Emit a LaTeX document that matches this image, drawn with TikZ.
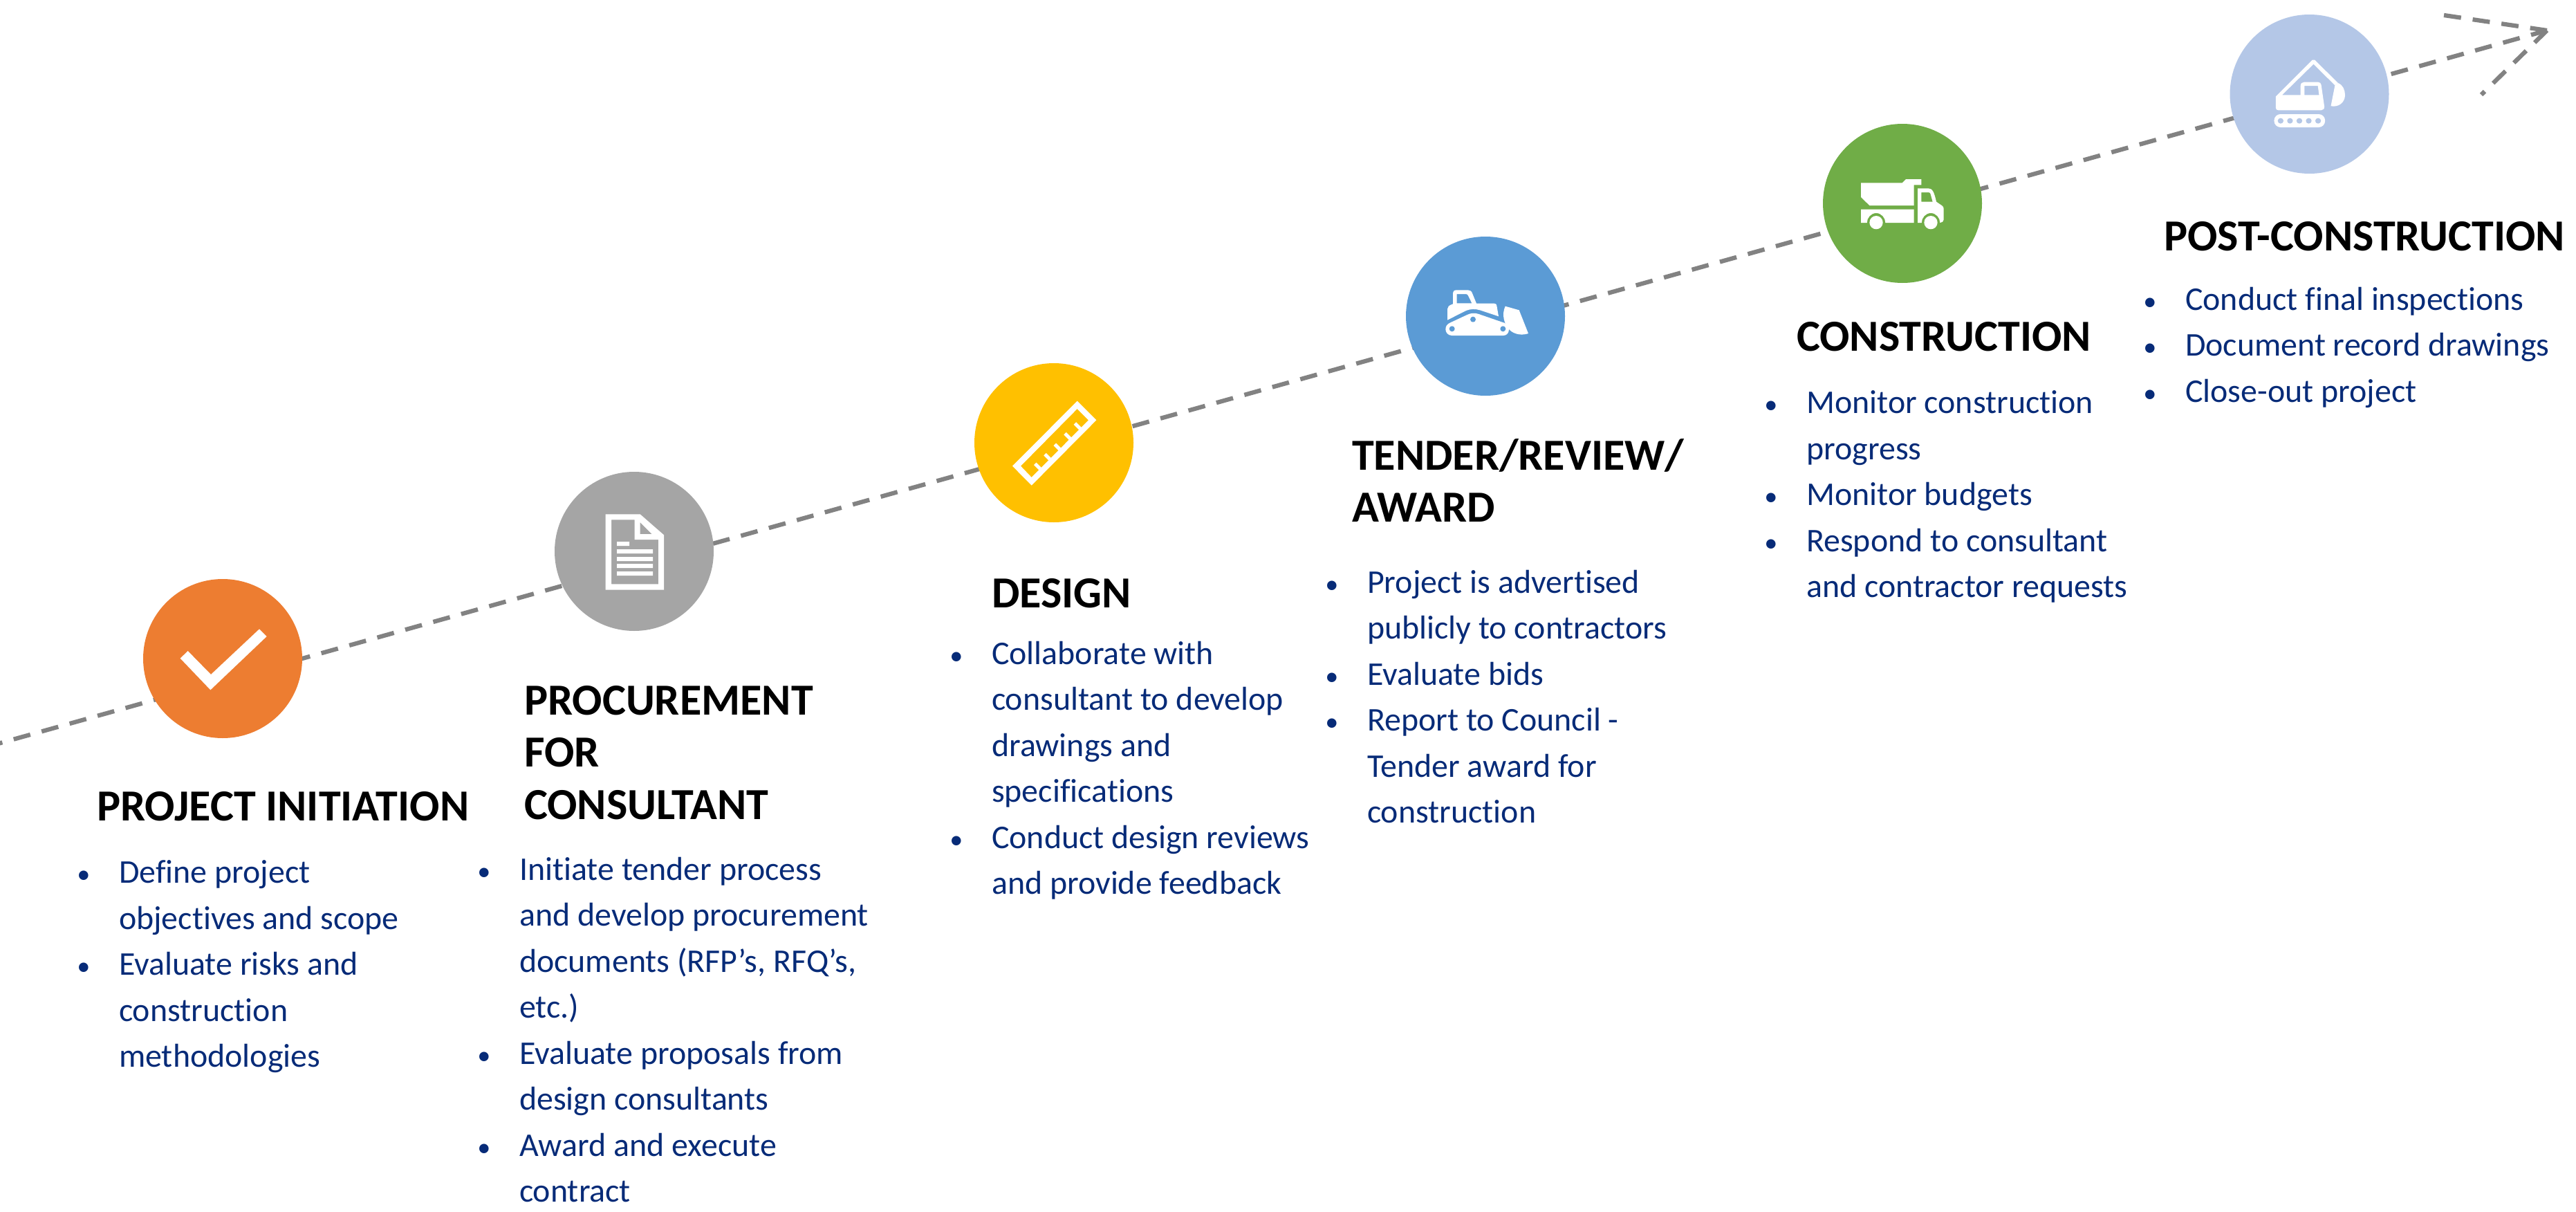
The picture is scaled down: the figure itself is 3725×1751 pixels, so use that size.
\documentclass[tikz,border=0pt]{standalone}
\usepackage{fontspec}
\setmainfont{Carlito}[Ligatures=NoCommon]
\definecolor{navy}{HTML}{072B78}
\definecolor{dashgrey}{HTML}{828282}
\definecolor{corange}{HTML}{ED7D31}
\definecolor{cgrey}{HTML}{A5A5A5}
\definecolor{cyellow}{HTML}{FFC000}
\definecolor{cblue}{HTML}{5B9BD5}
\definecolor{cgreen}{HTML}{70AD47}
\definecolor{clight}{HTML}{B4C7E7}
\newcommand{\bl}{\makebox[16.1pt][l]{\hspace*{1.5pt}\scalebox{0.8}{\textbullet}}}
\newcommand{\ct}{\hspace*{16.1pt}}
\tikzset{
  stage/.style={circle,minimum size=55.2pt,inner sep=0pt,outer sep=0pt,draw=none},
  heading/.style={anchor=north west,inner sep=0pt,outer sep=0pt,align=left,text=black,font=\fontsize{15.4}{18.2}\selectfont\bfseries},
  bullets/.style={anchor=north west,inner sep=0pt,outer sep=0pt,align=left,text=navy,font=\fontsize{11.5}{15.96}\selectfont},
  flow/.style={draw=dashgrey,line width=1.5pt,dash pattern=on 6pt off 4.08pt},
  icon/.style={fill=white,draw=none},
  zoomed/.style={x=0.08pt,y=-0.08pt},
  zoomedwide/.style={x=0.08342pt,y=-0.08pt}
}
\begin{document}
\begin{tikzpicture}[x=0.24pt,y=-0.24pt]
\clip (0,0) rectangle (3725,1751);
\useasboundingbox (0,0) rectangle (3725,1751);
\fill[white] (0,0) rectangle (3725,1751);
\coordinate (start) at (-20.7,1080);
\coordinate (tip) at (3683,44);
\coordinate (arma) at (3534,22);
\coordinate (armb) at (3588,137);
\draw[flow] (start) -- (tip);
\draw[flow] (arma) -- (tip) (tip) -- (armb);
\node[stage,fill=corange] (c1) at (322,952) {};
\node[stage,fill=cgrey] (c2) at (917,797) {};
\node[stage,fill=cyellow] (c3) at (1524,640) {};
\node[stage,fill=cblue] (c4) at (2148,457) {};
\node[stage,fill=cgreen] (c5) at (2751,294) {};
\node[stage,fill=clight] (c6) at (3339.5,136) {};
% check
\begin{scope}[shift={(190,830)},zoomed]
\fill[icon] (212,365)--(245,333)--(345,435)--(555,238)--(587,270)--(343,502)--cycle;
\end{scope}
% document
\begin{scope}[shift={(790,670)},zoomed]
\fill[icon,even odd rule] (257,220)--(407,220)--(510,310)--(510,548)--(257,548)--cycle
 (282,244)--(383,244)--(383,330)--(486,330)--(486,523)--(282,523)--cycle
 (407,255)--(458,306)--(407,306)--cycle;
\fill[icon] (306,339) rectangle (360,357) (306,372) rectangle (462,390) (306,405) rectangle (462,423) (306,435) rectangle (462,453) (306,468) rectangle (462,486);
\end{scope}
% ruler
\begin{scope}[shift={(1400,510)},zoomed]
\fill[icon,even odd rule] (473,209)--(556,292)--(275,575)--(192,491)--cycle
 (473,243)--(522,292)--(275,540)--(228,491)--cycle;
\draw[white,line width=1.2pt] (290,481)--(312,503) (333,440)--(354,461) (376,397)--(397,418) (420,350)--(443,373) (463,306)--(486,329);
\end{scope}
% bulldozer
\begin{scope}[shift={(2020,330)},zoomed]
\fill[icon,even odd rule] (219,398)--(219,350) .. controls (219,340) and (225,335) .. (243,328)--(243,285) .. controls (243,273) and (248,268) .. (258,268)--(308,268) .. controls (318,268) and (323,272) .. (327,282)--(345,326)--(422,326) .. controls (430,326) and (432,330) .. (433,336)--(441,382)--(360,355) .. controls (340,349) and (320,349) .. (300,357)--cycle
 (260,285)--(298,285) .. controls (305,285) and (307,288) .. (309,292)--(325,325)--(260,325)--cycle;
\fill[icon] (230,410)--(305,375) .. controls (322,367) and (338,366) .. (355,372)--(468,411) .. controls (480,418) and (487,428) .. (486,438) .. controls (486,455) and (475,465) .. (462,465)--(238,465) .. controls (222,465) and (211,452) .. (211,438) .. controls (211,425) and (218,415) .. (230,410)--cycle;
\fill[cblue] (239,436) circle[radius=12] (330,395) circle[radius=12] (460,436) circle[radius=12];
\fill[icon] (470,338)--(530,355)--(570,456) .. controls (545,465) and (510,462) .. (488,440) .. controls (465,415) and (453,375) .. (470,338)--cycle;
\end{scope}
% truck
\begin{scope}[shift={(2620,170)},zoomed]
\fill[icon] (213,283)--(392,283)--(408,267)--(475,267)--(475,292)--(443,292)--(443,381)--(250,381)--(213,345)--cycle;
\fill[icon] (213,398)--(443,398)--(443,456)--(319,456) .. controls (319,434) and (301,414) .. (279,414) .. controls (257,414) and (239,434) .. (239,456)--(213,456)--cycle;
\fill[icon,even odd rule] (459,307)--(505,307) .. controls (522,307) and (530,320) .. (540,365)--(565,382) .. controls (570,386) and (572,390) .. (572,396)--(572,442) .. controls (572,450) and (565,456) .. (556,456) .. controls (556,434) and (538,414) .. (516,414) .. controls (494,414) and (476,434) .. (476,456)--(459,456)--cycle
 (475,324)--(506,324) .. controls (512,324) and (514,328) .. (515,332)--(524,365)--(475,365)--cycle;
\fill[icon] (279,455) circle[radius=29] (516,455) circle[radius=29];
\end{scope}
% excavator
\begin{scope}[shift={(3180,0)},zoomedwide]
\fill[icon,even odd rule] (319,418)--(471,260)--(481,260)--(578,360)--(565,370)--(476,278)--(345,412)--(422,412)--(422,372) .. controls (422,362) and (428,356) .. (437,356)--(495,356) .. controls (503,356) and (507,361) .. (508,368)--(521,462) .. controls (522,472) and (515,478) .. (508,478)--(330,478) .. controls (323,478) and (319,474) .. (319,468)--cycle
 (438,372)--(494,372)--(499,412)--(438,412)--cycle;
\fill[icon] (565,370)--(578,360) .. controls (598,368) and (607,390) .. (607,412) .. controls (607,445) and (580,466) .. (548,460)--cycle;
\fill[icon,rounded corners=2.2pt] (312,495) rectangle (524,552);
\fill[clight] (339,524) circle[radius=12] (378,524) circle[radius=12] (417,524) circle[radius=12] (456,524) circle[radius=12] (495,524) circle[radius=12];
\end{scope}
% headings
\node[heading] (h1) at (140,1144) {PROJECT INITIATION};
\node[heading] (h2) at (758,991) {PROCUREMENT\\FOR\\CONSULTANT};
\node[heading] (h3) at (1434,836) {DESIGN};
\node[heading] (h4) at (1955,634) {TENDER/REVIEW/\\AWARD};
\node[heading] (h5) at (2598,465) {CONSTRUCTION};
\node[heading] (h6) at (3129,320) {POST-CONSTRUCTION};
% bullet lists
\node[bullets] (b1) at (105,1244) {\bl Define project\\\ct objectives and scope\\\bl Evaluate risks and\\\ct construction\\\ct methodologies};
\node[bullets] (b2) at (684,1239) {\bl Initiate tender process\\\ct and develop procurement\\\ct documents (RFP’s, RFQ’s,\\\ct etc.)\\\bl Evaluate proposals from\\\ct design consultants\\\bl Award and execute\\\ct contract};
\node[bullets] (b3) at (1367,927) {\bl Collaborate with\\\ct consultant to develop\\\ct drawings and\\\ct specifications\\\bl Conduct design reviews\\\ct and provide feedback};
\node[bullets] (b4) at (1910,824) {\bl Project is advertised\\\ct publicly to contractors\\\bl Evaluate bids\\\bl Report to Council -\\\ct Tender award for\\\ct construction};
\node[bullets] (b5) at (2545,565) {\bl Monitor construction\\\ct progress\\\bl Monitor budgets\\\bl Respond to consultant\\\ct and contractor requests};
\node[bullets] (b6) at (3093,415) {\bl Conduct final inspections\\\bl Document record drawings\\\bl Close-out project};
\end{tikzpicture}
\end{document}
